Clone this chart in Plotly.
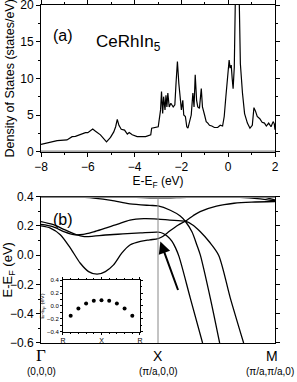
import plotly.graph_objects as go

# ---------------- DATA ----------------
# (a) density of states
dos_e = [-8.0, -7.31, -6.89, -6.67, -6.53, -6.31, -6.1, -6.0, -5.86, -5.79, -5.67, -5.46, -5.2, -5.03,
         -4.89, -4.81, -4.74, -4.67, -4.57, -4.43, -4.31, -4.23, -4.1, -3.89, -3.53, -3.31, -3.27, -3.13,
         -2.99, -2.89, -2.85, -2.80, -2.76, -2.70, -2.66, -2.62, -2.58, -2.52, -2.45, -2.35, -2.28, -2.23,
         -2.17, -2.11, -2.06, -2.0, -1.94, -1.90, -1.83, -1.77, -1.72, -1.65, -1.58, -1.51, -1.46, -1.41,
         -1.35, -1.30, -1.23, -1.15, -1.10, -1.01, -0.94, -0.87, -0.80, -0.70, -0.59, -0.45, -0.34, -0.24,
         -0.17, -0.10, 0.0, 0.04, 0.08, 0.13, 0.17, 0.21, 0.26, 0.30, 0.36, 0.42, 0.47, 0.52, 0.61, 0.70,
         0.82, 0.93, 1.03, 1.10, 1.17, 1.24, 1.35, 1.45, 1.55, 1.63, 1.73, 1.83, 1.92, 1.97, 2.0]
dos_v = [1.0, 1.5, 1.6, 2.05, 2.1, 2.4, 2.6, 2.6, 2.95, 3.1, 2.8, 2.3, 1.35, 1.95,
         2.7, 3.4, 4.4, 3.6, 3.05, 2.95, 2.4, 2.6, 2.3, 2.05, 2.05, 2.3, 3.2, 3.3,
         3.4, 5.7, 8.2, 5.2, 7.5, 5.7, 7.7, 6.1, 8.0, 6.1, 6.6, 6.1, 6.4, 9.3,
         12.3, 9.3, 7.5, 5.7, 7.0, 5.0, 4.8, 3.4, 3.2, 4.3, 5.0, 8.0, 6.1, 10.5,
         7.0, 6.1, 5.9, 8.6, 6.1, 5.0, 4.1, 3.9, 3.6, 3.5, 3.3, 3.3, 3.6, 3.5,
         4.8, 7.5, 11.6, 12.5, 11.4, 11.8, 10.0, 8.6, 11.5, 21.0, 32.0, 30.0, 21.0, 12.0, 8.0, 5.2,
         3.9, 3.2, 3.6, 6.0, 5.5, 4.8, 4.5, 4.0, 3.9, 3.5, 3.9, 3.4, 4.1, 3.8, 3.0]

# (b) bands along Gamma(0) - X(1) - M(2)
band_a_k = [0.0, 0.15, 0.27, 0.45, 0.6, 0.76, 0.93, 1.0, 1.105, 1.19, 1.233, 1.29, 1.333, 1.362, 1.447, 1.527]
band_a_e = [0.405, 0.404, 0.40, 0.39, 0.375, 0.35, 0.34, 0.337, 0.307, 0.268, 0.232, 0.16, 0.068, 0.0, -0.293, -0.6]

band_b_k = [0.0, 0.1, 0.2, 0.28, 0.36, 0.45, 0.55, 0.65, 0.76, 0.88, 1.0, 1.1, 1.233, 1.3, 1.362, 1.44, 1.518, 1.618, 1.732]
band_b_e = [0.21, 0.195, 0.16, 0.14, 0.142, 0.16, 0.185, 0.21, 0.24, 0.25, 0.247, 0.24, 0.232, 0.205, 0.16, 0.09, 0.0, -0.293, -0.6]

band_c_k = [0.0, 0.1, 0.2, 0.3, 0.37, 0.45, 0.55, 0.7, 0.85, 1.0, 1.04, 1.08, 1.12, 1.15, 1.18, 1.276, 1.381]
band_c_e = [0.23, 0.21, 0.175, 0.14, 0.127, 0.13, 0.138, 0.145, 0.152, 0.157, 0.15, 0.13, 0.095, 0.05, -0.01, -0.293, -0.6]

band_d_k = [0.0, 0.08, 0.165, 0.25, 0.336, 0.407, 0.479, 0.55, 0.62, 0.69, 0.76, 0.85, 0.93, 1.0, 1.04,
            1.1, 1.17, 1.233, 1.3, 1.36, 1.5, 1.65, 1.8, 2.0]
band_d_e = [0.20, 0.185, 0.14, 0.05, -0.055, -0.112, -0.13, -0.112, -0.066, 0.014, 0.07, 0.095, 0.105, 0.113, 0.128,
            0.165, 0.205, 0.232, 0.27, 0.298, 0.335, 0.355, 0.363, 0.367]

band_f_k = [0.55, 0.75, 1.0, 1.25, 1.5, 1.7, 1.85, 2.0]
band_f_e = [0.402, 0.397, 0.391, 0.395, 0.397, 0.395, 0.387, 0.372]

band_g_k = [1.88, 1.94, 2.0]
band_g_e = [0.402, 0.39, 0.378]

# inset
inset_x = [1, 2, 3, 4, 5, 6, 7, 8, 9]
inset_y = [-0.15, -0.04, 0.04, 0.08, 0.09, 0.08, 0.04, -0.04, -0.15]
inset_ticktext = ["R", "X", "R"]

kpt_labels = ["\u0393", "X", "M"]
kpt_coords = ["(0,0,0)", "(\u03c0/a,0,0)", "(\u03c0/a,\u03c0/a,0)"]

# ---------------- FIGURE ----------------
FONT = "Liberation Sans, Arial, sans-serif"
fig = go.Figure()

fig.add_trace(go.Scatter(x=dos_e, y=dos_v, mode="lines", line=dict(color="black", width=1.2),
                         xaxis="x", yaxis="y", showlegend=False))

for kk, ee in [(band_a_k, band_a_e), (band_b_k, band_b_e), (band_c_k, band_c_e),
               (band_d_k, band_d_e), (band_f_k, band_f_e), (band_g_k, band_g_e)]:
    fig.add_trace(go.Scatter(x=kk, y=ee, mode="lines", line=dict(color="black", width=1.3, shape="spline", smoothing=0.8),
                             xaxis="x2", yaxis="y2", showlegend=False))

fig.add_trace(go.Scatter(x=inset_x, y=inset_y, mode="markers", marker=dict(color="black", size=4),
                         xaxis="x3", yaxis="y3", showlegend=False))

axis_common = dict(showline=True, linecolor="black", linewidth=1, mirror="ticks", ticks="outside",
                   tickcolor="black", showgrid=False, zeroline=False, automargin=False,
                   ticklabeloverflow="allow",
                   tickfont=dict(family=FONT, size=12, color="black"))

fig.update_layout(
    width=297, height=382,
    margin=dict(l=41, r=22, t=5, b=39, autoexpand=False),
    plot_bgcolor="white", paper_bgcolor="white",
    font=dict(family=FONT, color="black"),
    xaxis=dict(axis_common, domain=[0, 1], range=[-8, 2], anchor="y", dtick=2, ticklen=4,
               minor=dict(dtick=1, ticklen=2, ticks="outside"),
               title=dict(text="E-E<sub>F</sub> (eV)", font=dict(size=12), standoff=0)),
    yaxis=dict(axis_common, domain=[0.566, 1], range=[0, 20], anchor="x", dtick=5, ticklen=4,
               minor=dict(dtick=2.5, ticklen=2, ticks="outside"),
               title=dict(text="Density of States (states/eV)", font=dict(size=12.5), standoff=2)),
    xaxis2=dict(axis_common, domain=[0, 1], range=[0, 2], anchor="y2", showticklabels=False, ticks=""),
    yaxis2=dict(axis_common, domain=[0, 0.433], range=[-0.6, 0.4], anchor="x2", dtick=0.2, ticklen=4,
                tickformat=".1f", minor=dict(dtick=0.1, ticklen=2, ticks="outside"),
                title=dict(text="E-E<sub>F</sub> (eV)", font=dict(size=13), standoff=2)),
    xaxis3=dict(axis_common, domain=[0.094, 0.423], range=[0, 10], anchor="y3",
                tickvals=[0, 5, 10], ticktext=inset_ticktext, ticklen=2,
                tickfont=dict(family=FONT, size=7), minor=dict(dtick=1, ticklen=1.5, ticks="outside")),
    yaxis3=dict(axis_common, domain=[0.033, 0.186], range=[-0.4, 0.4], anchor="x3", dtick=0.2,
                tickformat=".1f", ticklen=2, tickfont=dict(family=FONT, size=6),
                minor=dict(dtick=0.1, ticklen=1.5, ticks="outside"),
                title=dict(text="E-E<sub>F</sub> (eV)", font=dict(size=6), standoff=1)),
)

# grey lines
fig.add_shape(type="line", xref="x", yref="y", x0=-8, x1=2, y0=0, y1=0, line=dict(color="#888888", width=2.5))
fig.add_shape(type="line", xref="x2", yref="y2", x0=0, x1=2, y0=0.4, y1=0.4, line=dict(color="#888888", width=2.5))
fig.add_shape(type="line", xref="x2", yref="y2", x0=1, x1=1, y0=-0.6, y1=0.4, line=dict(color="#888888", width=1))

def px_to_paper(x, y):
    return (x - 41) / 234.0, 1 - (y - 5) / 338.0

for text, x, y, size in [("(a)", 63, 35, 16), ("CeRhIn<sub>5</sub>", 128, 43, 17), ("(b)", 63, 219, 16)]:
    xp, yp = px_to_paper(x, y)
    fig.add_annotation(text=text, x=xp, y=yp, xref="paper", yref="paper", showarrow=False,
                       font=dict(family=FONT, size=size, color="black"),
                       xanchor="center", yanchor="middle")

# k-point labels
label_xshift = [0, 0, -3]
coord_xshift = [0, 0, -5]
for i, (lab, co) in enumerate(zip(kpt_labels, kpt_coords)):
    fam = "Liberation Serif, Times New Roman, serif" if lab == "\u0393" else FONT
    fig.add_annotation(text=lab, x=i, y=-0.6, xref="x2", yref="y2", showarrow=False, yshift=-13,
                       xshift=label_xshift[i],
                       font=dict(family=fam, size=17 if lab == "\u0393" else 14, color="black"), yanchor="middle")
    fig.add_annotation(text=co, x=i, y=-0.6, xref="x2", yref="y2", showarrow=False, yshift=-29,
                       xshift=coord_xshift[i],
                       font=dict(family=FONT, size=10, color="black"), yanchor="middle")

# arrow
fig.add_annotation(x=1.02, y=0.094, ax=1.176, ay=-0.248, xref="x2", yref="y2", axref="x2", ayref="y2",
                   showarrow=True, arrowhead=2, arrowsize=1.2, arrowwidth=2, arrowcolor="black", text="")

fig.write_html("out.html", config={"displayModeBar": False},
               post_script="document.body.style.margin='0';document.body.style.overflow='hidden';")
